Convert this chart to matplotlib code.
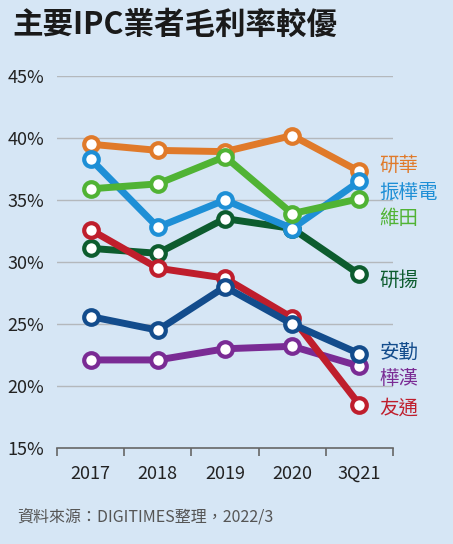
import matplotlib
matplotlib.use("Agg")
import matplotlib.pyplot as plt

plt.rcParams['font.family'] = ['Noto Sans CJK TC', 'DejaVu Sans']

years = ['2017', '2018', '2019', '2020', '3Q21']

advantech = [39.5, 39.0, 38.9, 40.2, 37.3]   # 研華
posiflex = [38.3, 32.8, 35.0, 32.7, 36.5]    # 振樺電
weitian = [35.9, 36.3, 38.5, 33.9, 35.1]     # 維田
aaeon = [31.1, 30.7, 33.5, 32.7, 29.0]       # 研揚
dfi = [32.6, 29.5, 28.7, 25.5, 18.5]         # 友通
avalue = [25.6, 24.5, 28.0, 25.0, 22.6]      # 安勤
ennoconn = [22.1, 22.1, 23.0, 23.2, 21.6]    # 樺漢

# draw order bottom -> top
series = [
    ('研華', advantech, '#E07A2A', 37.8),
    ('研揚', aaeon, '#0D5C2E', 28.5),
    ('振樺電', posiflex, '#1E8FD6', 35.6),
    ('維田', weitian, '#50B334', 33.5),
    ('樺漢', ennoconn, '#7A2B94', 20.6),
    ('友通', dfi, '#BF1E2C', 18.2),
    ('安勤', avalue, '#134C8C', 22.7),
]

bg = '#D6E6F5'
fig = plt.figure(figsize=(4.53, 5.44), dpi=100, facecolor=bg)
ax = fig.add_axes([0.1258, 0.1765, 0.7417, 0.6838])
ax.set_facecolor(bg)

x = list(range(len(years)))
for i, (name, vals, color, ly) in enumerate(series):
    ax.plot(x, vals, color=color, lw=5, marker='o', ms=10.5,
            mfc='white', mec=color, mew=3, zorder=3 + i,
            solid_capstyle='round', clip_on=False)
    ax.text(4.30, ly, name, color=color, fontsize=14, fontweight='light',
            ha='left', va='center')

ax.set_xlim(-0.5, 4.5)
ax.set_ylim(15, 45)
ax.set_yticks([15, 20, 25, 30, 35, 40, 45])
ax.set_yticklabels([f'{v}%' for v in [15, 20, 25, 30, 35, 40, 45]],
                   fontweight='light')
ax.set_xticks(x)
ax.set_xticklabels(years, fontweight='light')
ax.set_xticks([v - 0.5 for v in range(len(years) + 1)], minor=True)
ax.tick_params(axis='x', which='major', length=0, pad=12, labelsize=13,
               labelcolor='#222222')
ax.tick_params(axis='x', which='minor', length=6, width=1.2, color='#666666',
               direction='out')
ax.tick_params(axis='y', length=0, pad=9, labelsize=13, labelcolor='#222222')

for v in [20, 25, 30, 35, 40, 45]:
    ax.axhline(v, color='#B4B8BC', lw=1, zorder=1)

for s in ['top', 'right', 'left']:
    ax.spines[s].set_visible(False)
ax.spines['bottom'].set_color('#666666')
ax.spines['bottom'].set_linewidth(1.2)

fig.text(0.028, 0.955, '主要IPC業者毛利率較優', fontsize=22, fontweight='black',
         color='#1a1a1a', ha='left', va='center')
fig.text(0.037, 0.049, '資料來源：DIGITIMES整理，2022/3', fontsize=11.5,
         fontweight='light', color='#555555', ha='left', va='center')

fig.savefig('out.png', dpi=100, facecolor=bg)
